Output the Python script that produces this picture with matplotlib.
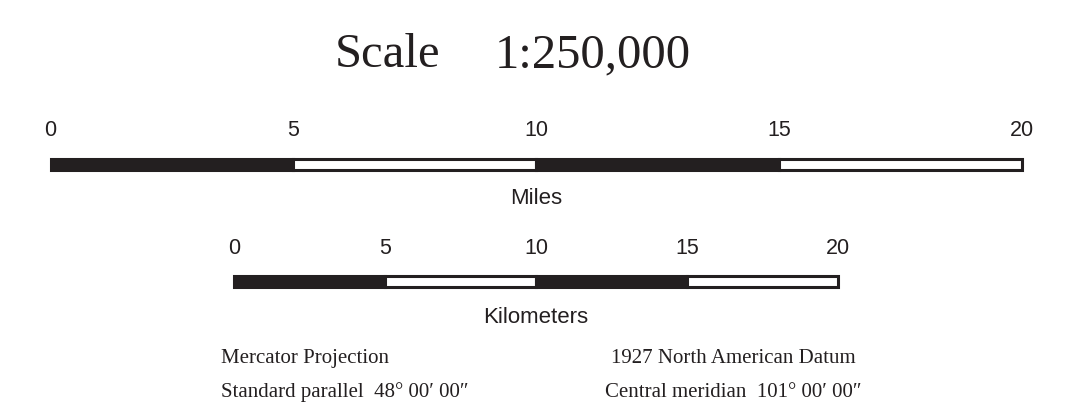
import matplotlib
matplotlib.use("Agg")
import matplotlib.pyplot as plt

# Map scale bar: 1:250,000
title_left = "Scale"
title_right = "1:250,000"

miles_ticks = [0, 5, 10, 15, 20]
km_ticks = [0, 5, 10, 15, 20]
seg_starts = [0, 5, 10, 15]
seg_width = 5
seg_colors = ["#231f20", "white", "#231f20", "white"]

notes_left = ["Mercator Projection", "Standard parallel  48\u00b0 00\u2032 00\u2033"]
notes_right = ["1927 North American Datum", "Central meridian  101\u00b0 00\u2032 00\u2033"]

KM_PER_MILE = 1.609344
INK = "#231f20"
SERIF = ["Liberation Serif", "DejaVu Serif"]
SANS = ["Liberation Sans", "DejaVu Sans"]

W, H = 1075, 417
fig = plt.figure(figsize=(W / 100, H / 100), dpi=100)


def px_axes(left, top, width, height):
    return fig.add_axes([left / W, 1 - (top + height) / H, width / W, height / H])


def scale_bar(ax, ticks, label, tick_off, label_off):
    ax.barh(0, seg_width, left=seg_starts, height=11 / 14, color=seg_colors,
            edgecolor=INK, linewidth=2.2, clip_on=False)
    ax.set_xlim(0, 20)
    ax.set_ylim(-0.5, 0.5)
    ax.axis("off")
    for t in ticks:
        ax.annotate(str(t), xy=(t, 1), xycoords=("data", "axes fraction"),
                    xytext=(0, tick_off), textcoords="offset points",
                    ha="center", va="baseline", fontsize=15.5,
                    family=SANS, color=INK)
    ax.annotate(label, xy=(0.5, 0), xycoords="axes fraction",
                xytext=(0, -label_off), textcoords="offset points",
                ha="center", va="baseline", fontsize=16, family=SANS, color=INK)


# miles bar spans 49..1023 px
mi_left, mi_width = 50.5, 971
ax_mi = px_axes(mi_left, 157, mi_width, 14)
scale_bar(ax_mi, miles_ticks, "Miles", 15.1, 23.8)

# kilometre bar: same px per mile, centered on the 10 mile mark
km_width = mi_width * (20 / KM_PER_MILE) / 20
km_center = mi_left + mi_width / 2
ax_km = px_axes(km_center - km_width / 2, 274, km_width, 14)
scale_bar(ax_km, km_ticks, "Kilometers", 14.4, 25.2)

# title
fig.text(387 / W, 1 - 67 / H, title_left, ha="center", va="baseline",
         fontsize=35, family=SERIF, color=INK)
fig.text(593 / W, 1 - 67 / H, title_right, ha="center", va="baseline",
         fontsize=35, family=SERIF, color=INK)

# projection notes
for i, (l, r) in enumerate(zip(notes_left, notes_right)):
    y = 1 - (363 + 34 * i) / H
    fig.text(221 / W, y, l, ha="left", va="baseline", fontsize=15,
             family=SERIF, color=INK)
    fig.text(733 / W, y, r, ha="center", va="baseline", fontsize=15,
             family=SERIF, color=INK)

fig.savefig("out.png", dpi=100, facecolor="white")
